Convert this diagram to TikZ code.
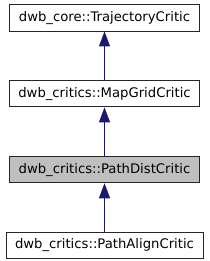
\documentclass[tikz,border=0pt]{standalone}
\usepackage{fontspec}
\setmainfont{DejaVu Sans}
\usetikzlibrary{positioning,arrows.meta}
\definecolor{edgeblue}{RGB}{25,25,112}
\definecolor{boxgray}{RGB}{191,191,191}

\begin{document}
\begin{tikzpicture}[x=1pt, y=1pt, node distance=48.5pt,
    cls/.style={draw=black!85, line width=0.9pt, fill=white, inner xsep=9pt,
        minimum height=26.5pt, text height=10pt, text depth=3pt,
        font=\fontsize{13.2}{15}\selectfont},
    inherit/.style={draw=edgeblue, line width=1pt, -{Triangle[length=15pt,width=11pt]}}
]
\useasboundingbox (0,0) rectangle (209,-261);

\node[cls] (traj) at (104.5,-17.75) {dwb\_core::TrajectoryCritic};
\node[cls, below=of traj] (mapgrid) {dwb\_critics::MapGridCritic};
\node[cls, fill=boxgray, below=of mapgrid] (pathdist) {dwb\_critics::PathDistCritic};
\node[cls, below=of pathdist] (pathalign) {dwb\_critics::PathAlignCritic};

\draw[inherit] (mapgrid) -- (traj);
\draw[inherit] (pathdist) -- (mapgrid);
\draw[inherit] (pathalign) -- (pathdist);
\end{tikzpicture}
\end{document}
